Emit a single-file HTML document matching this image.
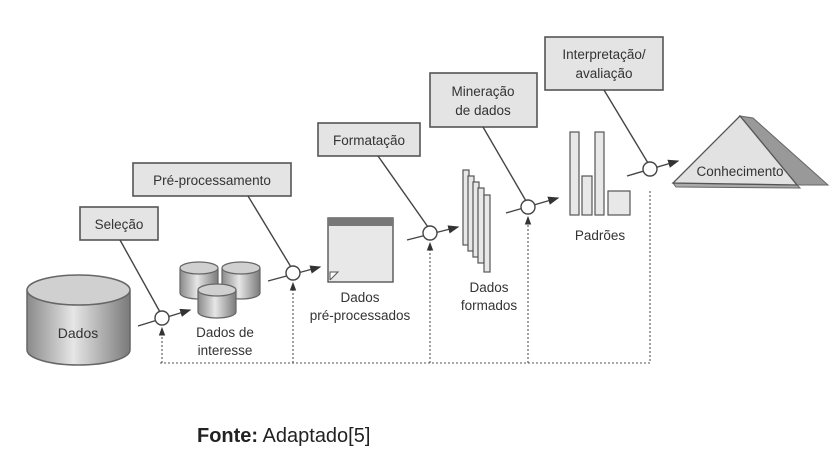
<!DOCTYPE html>
<html><head><meta charset="utf-8"><style>
body{margin:0;background:#fff;width:836px;height:468px;overflow:hidden}
svg text{font-family:"Liberation Sans",sans-serif;fill:#333}
</style></head><body>
<svg width="836" height="468" viewBox="0 0 836 468" xmlns="http://www.w3.org/2000/svg">
<defs>
<linearGradient id="cg" x1="0" x2="1"><stop offset="0" stop-color="#8a8a8a"/><stop offset=".45" stop-color="#e6e6e6"/><stop offset="1" stop-color="#7a7a7a"/></linearGradient>
<marker id="ah" markerWidth="8" markerHeight="6" refX="7" refY="3" orient="auto"><path d="M0,0L8,3L0,6z" fill="#333"/></marker>
</defs>
<g stroke="#555" stroke-width="1.6" fill="#e4e4e4">
<rect x="80" y="207" width="78" height="33"/>
<rect x="133" y="163" width="158" height="33"/>
<rect x="318" y="123" width="102" height="33"/>
<rect x="430" y="73" width="107" height="54"/>
<rect x="545" y="37" width="118" height="53"/>
</g>
<g font-size="13.5" text-anchor="middle">
<text x="119" y="229">Seleção</text>
<text x="212" y="185">Pré-processamento</text>
<text x="369" y="145">Formatação</text>
<text x="483" y="96">Mineração</text><text x="483" y="115">de dados</text>
<text x="604" y="59">Interpretação/</text><text x="604" y="78">avaliação</text>
</g>
<g stroke="#444" stroke-width="1.4" fill="none">
<line x1="120" y1="240" x2="160" y2="312"/>
<line x1="248" y1="196" x2="291" y2="267"/>
<line x1="378" y1="156" x2="428" y2="227"/>
<line x1="483" y1="127" x2="526" y2="201"/>
<line x1="604" y1="90" x2="648" y2="163"/>
<line x1="138" y1="326" x2="190" y2="310" marker-end="url(#ah)"/>
<line x1="268" y1="281" x2="320" y2="267" marker-end="url(#ah)"/>
<line x1="407" y1="240" x2="458" y2="227" marker-end="url(#ah)"/>
<line x1="506" y1="213" x2="558" y2="198" marker-end="url(#ah)"/>
<line x1="627" y1="176" x2="678" y2="161" marker-end="url(#ah)"/>
</g>
<g stroke="#444" stroke-width="1.4" fill="#fff">
<circle cx="162" cy="318" r="7"/><circle cx="293" cy="273" r="7"/><circle cx="430" cy="233" r="7"/><circle cx="528" cy="207" r="7"/><circle cx="650" cy="169" r="7"/>
</g>
<g stroke="#555" stroke-width="1.1" stroke-dasharray="2,2" fill="none">
<path d="M160 363H650V190"/>
<line x1="162" y1="363" x2="162" y2="328" marker-end="url(#ah)"/>
<line x1="293" y1="363" x2="293" y2="283" marker-end="url(#ah)"/>
<line x1="430" y1="363" x2="430" y2="243" marker-end="url(#ah)"/>
<line x1="528" y1="363" x2="528" y2="217" marker-end="url(#ah)"/>
</g>
<path d="M27 290V350A51.5 15 0 0 0 130 350V290" fill="url(#cg)" stroke="#666" stroke-width="1.5"/>
<ellipse cx="78.5" cy="290" rx="51.5" ry="15" fill="#d0d0d0" stroke="#666" stroke-width="1.5"/>
<text x="78" y="338" font-size="14" text-anchor="middle">Dados</text>
<g stroke="#666" stroke-width="1.2">
<path d="M180 268V293A19 6 0 0 0 218 293V268" fill="url(#cg)"/><ellipse cx="199" cy="268" rx="19" ry="6" fill="#d0d0d0"/>
<path d="M222 268V293A19 6 0 0 0 260 293V268" fill="url(#cg)"/><ellipse cx="241" cy="268" rx="19" ry="6" fill="#d0d0d0"/>
<path d="M198 290V312A19 6 0 0 0 236 312V290" fill="url(#cg)"/><ellipse cx="217" cy="290" rx="19" ry="6" fill="#d0d0d0"/>
</g>
<g font-size="13.5" text-anchor="middle">
<text x="225" y="337">Dados de</text><text x="225" y="355">interesse</text>
<text x="360" y="302">Dados</text><text x="360" y="320">pré-processados</text>
<text x="489" y="292">Dados</text><text x="489" y="310">formados</text>
<text x="600" y="240">Padrões</text>
</g>
<rect x="328" y="218" width="65" height="64" fill="#e8e8e8" stroke="#555" stroke-width="1.4"/>
<rect x="328" y="218" width="65" height="8" fill="#777"/>
<path d="M330 280V272H338L330 280" fill="#fff" stroke="#555"/>
<g fill="#e8e8e8" stroke="#555" stroke-width="1.2">
<rect x="463" y="170" width="6" height="75"/><rect x="468" y="176" width="6" height="75"/><rect x="473" y="182" width="6" height="75"/><rect x="478" y="188" width="6" height="75"/><rect x="484" y="195" width="6" height="77"/>
</g>
<g fill="#e8e8e8" stroke="#555" stroke-width="1.2">
<rect x="570" y="132" width="9" height="83"/><rect x="582" y="176" width="10" height="39"/><rect x="595" y="132" width="9" height="83"/><rect x="608" y="191" width="22" height="24"/>
</g>
<polygon points="740,116 753,118 828,185 797,185" fill="#999" stroke="#666"/>
<polygon points="673,183 797,185 800,188 676,187" fill="#aaa" stroke="#666"/>
<polygon points="740,116 673,183 797,185" fill="#e2e2e2" stroke="#555" stroke-width="1.3"/>
<text x="740" y="176" font-size="13.5" text-anchor="middle">Conhecimento</text>
<text x="197" y="442" font-size="20" style="fill:#222"><tspan font-weight="bold">Fonte:</tspan> Adaptado[5]</text>
</svg>
</body></html>
